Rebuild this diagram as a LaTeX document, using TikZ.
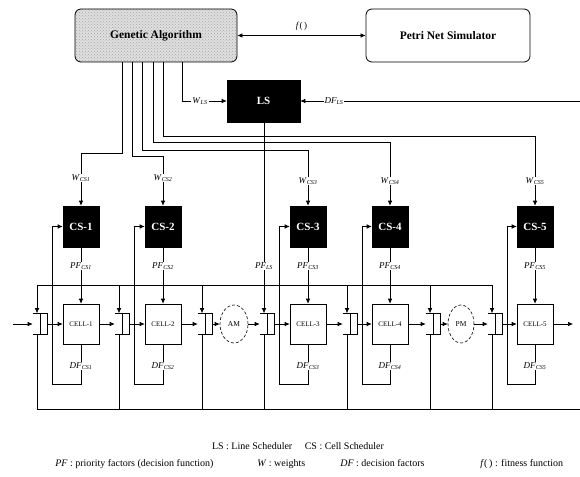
\documentclass[tikz,border=0pt]{standalone}
\usepackage{fontspec}
\setmainfont{Liberation Serif}
\usetikzlibrary{arrows.meta,calc,patterns,shapes.geometric}
\newcommand\sublab[2]{\textit{#1}\textsubscript{\textit{#2}}}
\begin{document}
\begin{tikzpicture}[x=1pt,y=-1pt,line width=0.6pt,
 arr/.style={-{Latex[length=5pt,width=4.5pt]}},
 darr/.style={{Latex[length=5pt,width=4.5pt]}-{Latex[length=5pt,width=4.5pt]}},
 blk/.style={draw,fill=black,text=white,font=\bfseries\fontsize{11}{11}\selectfont,minimum width=36pt,minimum height=41pt,inner sep=0},
 cellbox/.style={draw,fill=white,minimum width=36pt,minimum height=40pt,inner sep=0,font=\fontsize{7}{7}\selectfont},
 buf/.style={minimum width=14pt,minimum height=21pt,inner sep=0},
 mach/.style={ellipse,draw,densely dashed,minimum width=28pt,minimum height=38pt,inner sep=0,font=\fontsize{7.5}{7.5}\selectfont},
 lab/.style={fill=white,inner sep=1pt,font=\fontsize{9}{9}\selectfont},
 topbox/.style={draw,rounded corners=6pt,line width=0.8pt,minimum width=162pt,minimum height=53pt,font=\bfseries\fontsize{11.5}{11.5}\selectfont},
 legend/.style={font=\fontsize{10}{10}\selectfont,inner sep=0}]
\useasboundingbox (0,0) rectangle (580,476);
% top boxes
\node[topbox,preaction={fill=gray!25},pattern=crosshatch dots,pattern color=gray!70] (ga) at (156,35.5) {Genetic Algorithm};
\node[topbox,minimum width=164pt] (pn) at (448,35.5) {Petri Net Simulator};
\draw[darr] (ga.east) -- (pn.west) node[midway,above=1pt,font=\fontsize{9}{9}\selectfont] {\textit{f}(\,)};
% line scheduler
\node[blk,minimum width=73pt,minimum height=42pt] (ls) at (263.5,101) {LS};
% cell schedulers and cells
\foreach \i/\x in {1/81,2/163,3/308,4/390,5/535}{
  \node[blk] (cs\i) at (\x,226.5) {CS-\i};
  \node[cellbox] (cell\i) at (\x,324) {CELL-\i};
}
% buffers and machines
\foreach \b/\x in {b1/40,b2/122,b3/205,b4/267,b5/350,b6/433,b7/495}{
  \node[buf] (\b) at (\x,324) {};
  \coordinate (t\b) at ($(\b.north)+(-3,0)$);
  \coordinate (d\b) at ($(\b.south)+(-3,0)$);
  \draw[line width=0.8pt] (\b.north west) -- (\b.north east) -- (\b.south east) -- (\b.south west);
  \draw[line width=0.8pt] ($(\b.north west)!0.55!(\b.north east)$) -- ($(\b.south west)!0.55!(\b.south east)$);
}
\node[mach] (am) at (234,324) {AM};
\node[mach,minimum width=26pt] (pm) at (461,324) {PM};
% main flow
\coordinate (in) at (13,324);
\coordinate (out) at (573,324);
\draw[arr] (in) -- (b1.west);
\foreach \a/\b in {b1/cell1,cell1/b2,b2/cell2,cell2/b3,b3/am,am/b4,b4/cell3,cell3/b5,b5/cell4,cell4/b6,b6/pm,pm/b7,b7/cell5}
  \draw[arr] (\a.east) -- (\b.west);
\draw[arr] (cell5.east) -- (out);
% weights from GA
\draw[arr] ($(ga.south west)+(48,0)$) |- ($(cs1.north)+(0,-52)$) -- (cs1.north);
\draw[arr] ($(ga.south west)+(58,0)$) |- ($(cs2.north)+(0,-49)$) -- (cs2.north);
\draw[arr] ($(ga.south west)+(68,0)$) |- ($(cs3.north)+(0,-55)$) -- (cs3.north);
\draw[arr] ($(ga.south west)+(79,0)$) |- ($(cs4.north)+(0,-63)$) -- (cs4.north);
\draw[arr] ($(ga.south west)+(89,0)$) |- ($(cs5.north)+(0,-69)$) -- (cs5.north);
\draw[arr] ($(ga.south west)+(108,0)$) |- (ls.west);
% DF to LS
\coordinate (dfr) at (580,101);
\draw[arr] (dfr) -- (ls.east);
% LS to buffer 4
\draw[arr] (ls.south -| tb4) -- (tb4);
% CS to cells
\foreach \i in {1,...,5} \draw[arr] (cs\i.south) -- (cell\i.north);
% DF loops cell -> CS
\foreach \i/\xl in {1/52,2/134,3/279,4/362,5/507}{
  \coordinate (L\i) at (\xl,0);
  \draw[arr] (cell\i.south) -- ++(0,40) -| (L\i |- cs\i.west) -- (cs\i.west);
}
% top feedback line
\coordinate (fb) at (0,285);
\draw (tb1 |- fb) -- (tb7 |- fb);
\foreach \b in {b1,b2,b3,b5,b6,b7} \draw[arr] (t\b |- fb) -- (t\b);
% bottom collection line
\coordinate (bb) at (580,409);
\draw (db1 |- bb) -- (bb);
\foreach \b in {b1,b2,b3,b4,b5,b6,b7} \draw (d\b) -- (d\b |- bb);
% labels
\node[lab] at (200,101) {\sublab{W}{LS}};
\node[lab] at (334,101) {\sublab{DF}{LS}};
\node[lab] at (264,266) {\sublab{PF}{LS}};
\foreach \i/\y in {1/178,2/178,3/181,4/181,5/181}{
  \node[lab] at (cs\i.north |- 0,\y) {\sublab{W}{CS\i}};
  \node[lab] at (cs\i.south |- 0,266) {\sublab{PF}{CS\i}};
  \node[lab] at (cell\i.south |- 0,366) {\sublab{DF}{CS\i}};
}
% legend
\node[legend,anchor=base] (lg1) at (298,449) {LS : Line Scheduler\quad\ CS : Cell Scheduler};
\node[legend,anchor=base west] (lgpf) at (55,466) {\textit{PF} : priority factors (decision function)};
\node[legend,anchor=base west] (lgw) at (257,466) {\textit{W} : weights};
\node[legend,anchor=base west] (lgdf) at (340,466) {\textit{DF} : decision factors};
\node[legend,anchor=base west] (lgf) at (480,466) {\textit{f}(\,) : fitness function};
\end{tikzpicture}
\end{document}
